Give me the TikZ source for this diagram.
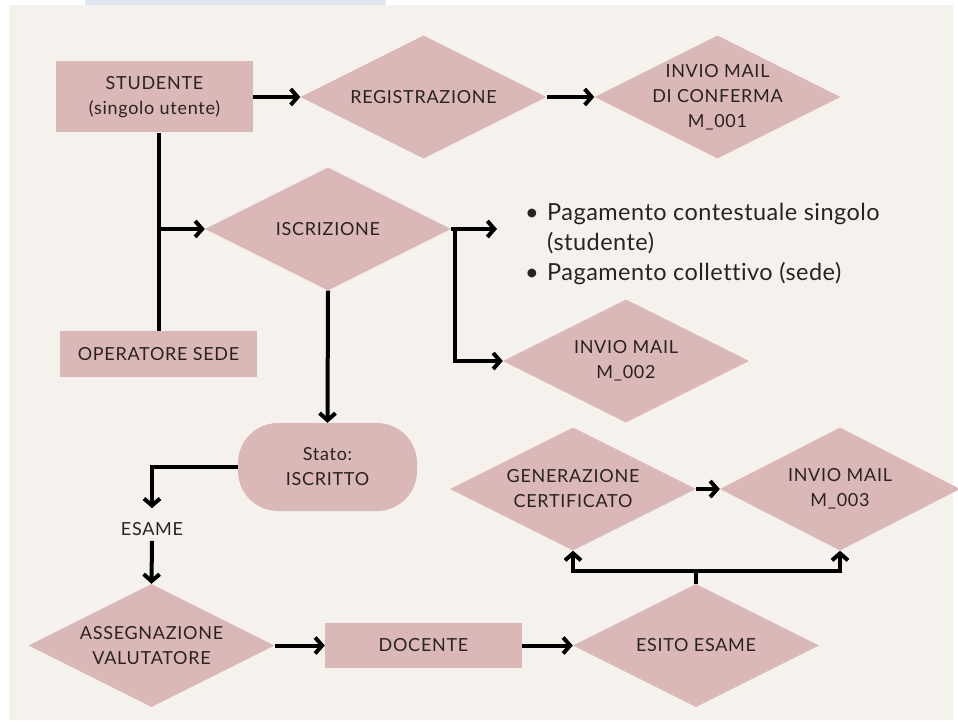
\documentclass[tikz,border=0pt]{standalone}
\usepackage{fontspec}
\setmainfont{Lato}[LetterSpace=4,Ligatures=NoCommon]
\newfontfamily\listfont{Lato}[LetterSpace=2,Ligatures=NoCommon]
\usetikzlibrary{shapes.geometric,arrows.meta}
\definecolor{rosa}{HTML}{DBB8B8}
\definecolor{carta}{HTML}{F5F2EE}
\definecolor{cielo}{HTML}{DFE7F0}
\definecolor{inchiostro}{HTML}{2A2222}
\begin{document}
\begin{tikzpicture}[x=1pt,y=-1pt,
        every node/.style={text=inchiostro,font=\fontsize{18}{25}\selectfont,align=center},
        blocco/.style={rectangle,fill=rosa,minimum width=197pt,inner sep=0pt},
        rombo/.style={diamond,fill=rosa,shape aspect=2,minimum width=246pt,minimum height=123pt,inner sep=0pt},
        capsula/.style={rectangle,rounded corners=40pt,fill=rosa,minimum width=179pt,minimum height=88pt,inner sep=0pt},
        linea/.style={line width=4pt},
        freccia/.style={line width=4pt,-{Straight Barb[length=7pt,width=16pt]}}]
        \useasboundingbox (0,0) rectangle (958,722);
        \fill[white] (0,0) rectangle (958,722);
        \fill[carta] (9,5) rectangle (953,720);
        \fill[cielo] (85,0) rectangle (386,5);
        \node[blocco,minimum height=71pt] (studente) at (154.5,97) {STUDENTE\\(singolo utente)};
        \node[rombo] (registrazione) at (423.5,97) {REGISTRAZIONE};
        \node[rombo,inner sep=-5pt] (conferma) at (717.5,97) {INVIO MAIL\\DI CONFERMA\\M\_001};
        \node[rombo] (iscrizione) at (328,229) {ISCRIZIONE};
        \node[blocco,minimum height=46pt] (operatore) at (158.5,354) {OPERATORE SEDE};
        \node[anchor=north west,align=left,inner sep=0pt,font=\listfont\fontsize{23.5}{30}\selectfont] (pagamenti) at (525,203)
            {\makebox[22pt][l]{\textbullet}Pagamento contestuale singolo\\\hspace*{22pt}(studente)\\\makebox[22pt][l]{\textbullet}Pagamento collettivo (sede)};
        \node[rombo] (mail2) at (626,361) {INVIO MAIL\\M\_002};
        \node[capsula] (stato) at (327.5,467) {Stato:\\ISCRITTO};
        \node[inner xsep=2pt,inner ysep=5pt] (esame) at (152,529) {ESAME};
        \node[rombo] (generazione) at (573,489) {GENERAZIONE\\CERTIFICATO};
        \node[rombo,minimum width=240pt] (mail3) at (840,489) {INVIO MAIL\\M\_003};
        \node[rombo] (assegnazione) at (151.5,645.5) {ASSEGNAZIONE\\VALUTATORE};
        \node[blocco,minimum height=45pt] (docente) at (423.5,645.5) {DOCENTE};
        \node[rombo] (esito) at (696,645.5) {ESITO ESAME};
        \coordinate (bivio) at (operatore.north |- iscrizione.west);
        \coordinate (ramo) at ([xshift=4pt]iscrizione.east);
        \coordinate (pagamento) at (497,229);
        \coordinate (esiti) at ([yshift=13pt]esito.north);
        \draw[freccia] (studente.east) -- (registrazione.west);
        \draw[freccia] (registrazione.east) -- (conferma.west);
        \draw[linea] (operatore.north) -- (operatore.north |- studente.south);
        \draw[freccia] (bivio) -- (iscrizione.west);
        \draw[linea] (iscrizione.east) -- (ramo);
        \draw[freccia] (ramo) -- (pagamento);
        \draw[freccia] (ramo) |- (mail2.west);
        \draw[freccia] (iscrizione.south) -- (stato.north);
        \draw[freccia,shorten >=9pt] (stato.west) -| (esame.north);
        \draw[freccia] (esame.south) -- (assegnazione.north);
        \draw[freccia] (assegnazione.east) -- (docente.west);
        \draw[freccia] (docente.east) -- (esito.west);
        \draw[linea] (esito.north) -- (esiti);
        \draw[freccia] (esiti) -| (generazione.south);
        \draw[freccia] (esiti) -| (mail3.south);
        \draw[freccia] (generazione.east) -- (mail3.west);
    \end{tikzpicture}
\end{document}
